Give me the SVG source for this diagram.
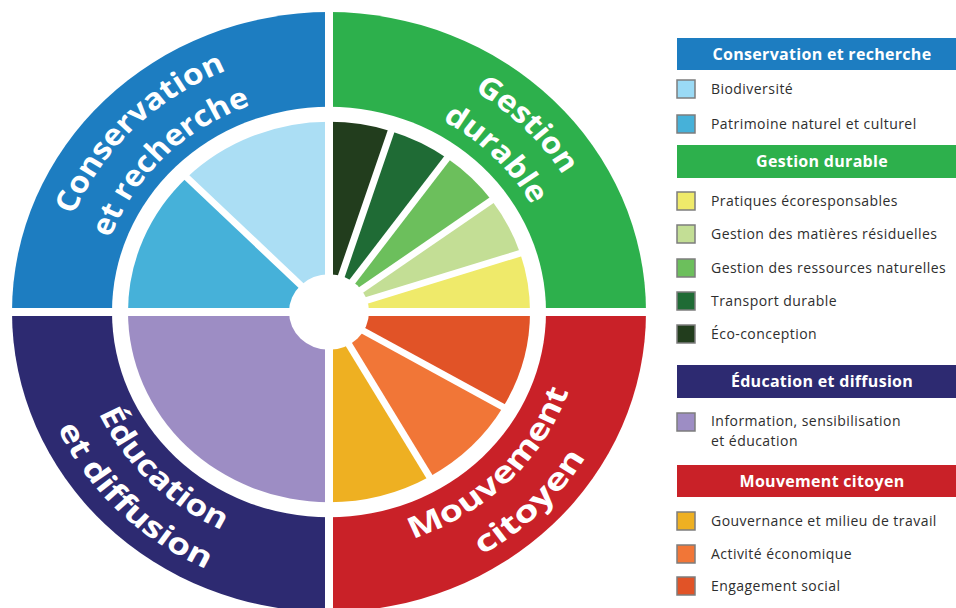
<svg xmlns="http://www.w3.org/2000/svg" width="956" height="608" viewBox="0 0 956 608">
<style>
.ring{font-family:"Open Sans","Noto Sans",sans-serif;font-weight:700;font-size:31px;fill:#fff}
.hdr{font-family:"Open Sans","Noto Sans",sans-serif;font-weight:700;font-size:16px;letter-spacing:0.3px;fill:#fff;text-anchor:middle}
.item{font-family:"Open Sans","Noto Sans",sans-serif;font-size:14px;letter-spacing:0.45px;fill:#2e2e2e}
.sw{stroke:#7d7d7d;stroke-width:1.5}
.sep{stroke:#fff;stroke-width:7;stroke-linecap:butt}
</style>
<defs>
<path id="pTL1" d="M-275,0 A275,275 0 0 1 0,-275"/>
<path id="pTL2" d="M-232,0 A232,232 0 0 1 0,-232"/>
<path id="pTR1" d="M0,-275 A275,275 0 0 1 275,0"/>
<path id="pTR2" d="M0,-232 A232,232 0 0 1 232,0"/>
<path id="pBL1" d="M-254,0 A254,254 0 0 0 0,254"/>
<path id="pBL2" d="M-298,0 A298,298 0 0 0 0,298"/>
<path id="pBR1" d="M0,254 A254,254 0 0 0 254,0"/>
<path id="pBR2" d="M0,299 A299,299 0 0 0 299,0"/>
</defs>
<rect width="956" height="608" fill="#fff"/>
<g transform="translate(329,312) scale(1,0.946)">
  <g id="conservation-ring"><path d="M0,0 L0,-317 A317,317 0 0 0 -317,0 Z" fill="#1D7DC1"/></g>
  <g id="gestion-ring"><path d="M0,0 L317,0 A317,317 0 0 0 0,-317 Z" fill="#2DB04C"/></g>
  <g id="education-ring"><path d="M0,0 L-317,0 A317,317 0 0 0 0,317 Z" fill="#2D2A71"/></g>
  <g id="mouvement-ring"><path d="M0,0 L0,317 A317,317 0 0 0 317,0 Z" fill="#C92128"/></g>
  <circle r="217" fill="#fff"/>
  <g id="biodiversite"><path d="M0,0 L0,-201 A201,201 0 0 0 -142.13,-142.13 Z" fill="#ABDEF4"/></g>
  <g id="patrimoine"><path d="M0,0 L-142.13,-142.13 A201,201 0 0 0 -201,0 Z" fill="#46B1D9"/></g>
  <g id="pratiques"><path d="M0,0 L201,0 A201,201 0 0 0 191.16,-62.11 Z" fill="#EFEA6A"/></g>
  <g id="matieres"><path d="M0,0 L191.16,-62.11 A201,201 0 0 0 162.61,-118.15 Z" fill="#C3DE95"/></g>
  <g id="ressources"><path d="M0,0 L162.61,-118.15 A201,201 0 0 0 118.15,-162.61 Z" fill="#6CBF5C"/></g>
  <g id="transport"><path d="M0,0 L118.15,-162.61 A201,201 0 0 0 62.11,-191.16 Z" fill="#1F6B35"/></g>
  <g id="eco-conception"><path d="M0,0 L62.11,-191.16 A201,201 0 0 0 0,-201 Z" fill="#223D1D"/></g>
  <g id="information"><path d="M0,0 L-201,0 A201,201 0 0 0 0,201 Z" fill="#9D8DC4"/></g>
  <g id="gouvernance"><path d="M0,0 L0,201 A201,201 0 0 0 100.5,174.07 Z" fill="#EEB022"/></g>
  <g id="activite"><path d="M0,0 L100.5,174.07 A201,201 0 0 0 174.07,100.5 Z" fill="#F17637"/></g>
  <g id="engagement"><path d="M0,0 L174.07,100.5 A201,201 0 0 0 201,0 Z" fill="#E15327"/></g>
  <g id="separators">
    <line class="sep" x1="0" y1="0" x2="-148.49" y2="-148.49"/>
    <line class="sep" x1="0" y1="0" x2="199.72" y2="-64.89"/>
    <line class="sep" x1="0" y1="0" x2="169.89" y2="-123.43"/>
    <line class="sep" x1="0" y1="0" x2="123.43" y2="-169.89"/>
    <line class="sep" x1="0" y1="0" x2="64.89" y2="-199.72"/>
    <line class="sep" x1="0" y1="0" x2="105" y2="181.87"/>
    <line class="sep" x1="0" y1="0" x2="181.87" y2="105"/>
    <line x1="0" y1="-340" x2="0" y2="340" stroke="#fff" stroke-width="8"/>
    <line x1="-340" y1="0" x2="340" y2="0" stroke="#fff" stroke-width="8.6"/>
    <circle r="40" fill="#fff"/>
  </g>
  <g id="ring-labels">
    <text class="ring"><textPath href="#pTL1" startOffset="50%" text-anchor="middle" textLength="222" lengthAdjust="spacingAndGlyphs">Conservation</textPath></text>
    <text class="ring"><textPath href="#pTL2" startOffset="50%" text-anchor="middle" textLength="205" lengthAdjust="spacingAndGlyphs">et recherche</textPath></text>
    <text class="ring"><textPath href="#pTR1" startOffset="50%" text-anchor="middle" textLength="127" lengthAdjust="spacingAndGlyphs">Gestion</textPath></text>
    <text class="ring"><textPath href="#pTR2" startOffset="50%" text-anchor="middle" textLength="128" lengthAdjust="spacingAndGlyphs">durable</textPath></text>
    <text class="ring"><textPath href="#pBL1" startOffset="50%" text-anchor="middle" textLength="178" lengthAdjust="spacingAndGlyphs">Éducation</textPath></text>
    <text class="ring"><textPath href="#pBL2" startOffset="50%" text-anchor="middle" textLength="215" lengthAdjust="spacingAndGlyphs">et diffusion</textPath></text>
    <text class="ring"><textPath href="#pBR1" startOffset="50%" text-anchor="middle" textLength="228" lengthAdjust="spacingAndGlyphs">Mouvement</textPath></text>
    <text class="ring"><textPath href="#pBR2" startOffset="50%" text-anchor="middle" textLength="148" lengthAdjust="spacingAndGlyphs">citoyen</textPath></text>
  </g>
</g>
<g id="legend">
  <g id="lg-conservation"><rect x="677" y="38" width="290" height="32" fill="#1D7DC1"/><text class="hdr" x="822" y="60">Conservation et recherche</text></g>
  <g id="lg-biodiversite"><rect class="sw" x="677" y="80" width="18" height="18" fill="#9ADAF5"/><text class="item" x="711" y="94">Biodiversité</text></g>
  <g id="lg-patrimoine"><rect class="sw" x="677" y="115" width="18" height="18" fill="#46B1D9"/><text class="item" x="711" y="129">Patrimoine naturel et culturel</text></g>
  <g id="lg-gestion"><rect x="677" y="145" width="290" height="33" fill="#2DB04C"/><text class="hdr" x="822" y="167">Gestion durable</text></g>
  <g id="lg-pratiques"><rect class="sw" x="677" y="192" width="18" height="18" fill="#EFEA6A"/><text class="item" x="711" y="206">Pratiques écoresponsables</text></g>
  <g id="lg-matieres"><rect class="sw" x="677" y="225" width="18" height="18" fill="#C3DE95"/><text class="item" x="711" y="239">Gestion des matières résiduelles</text></g>
  <g id="lg-ressources"><rect class="sw" x="677" y="259" width="18" height="18" fill="#6CBF5C"/><text class="item" x="711" y="273">Gestion des ressources naturelles</text></g>
  <g id="lg-transport"><rect class="sw" x="677" y="292" width="18" height="18" fill="#1F6B35"/><text class="item" x="711" y="306">Transport durable</text></g>
  <g id="lg-eco"><rect class="sw" x="677" y="325" width="18" height="18" fill="#223D1D"/><text class="item" x="711" y="339">Éco-conception</text></g>
  <g id="lg-education"><rect x="677" y="365" width="290" height="33" fill="#2D2A71"/><text class="hdr" x="822" y="387">Éducation et diffusion</text></g>
  <g id="lg-information"><rect class="sw" x="677" y="413" width="18" height="18" fill="#9D8DC4"/><text class="item" x="711" y="426">Information, sensibilisation</text><text class="item" x="711" y="446">et éducation</text></g>
  <g id="lg-mouvement"><rect x="677" y="465" width="290" height="32" fill="#C92128"/><text class="hdr" x="822" y="487">Mouvement citoyen</text></g>
  <g id="lg-gouvernance"><rect class="sw" x="677" y="512" width="18" height="18" fill="#EEB022"/><text class="item" x="711" y="526">Gouvernance et milieu de travail</text></g>
  <g id="lg-activite"><rect class="sw" x="677" y="545" width="18" height="18" fill="#F17637"/><text class="item" x="711" y="559">Activité économique</text></g>
  <g id="lg-engagement"><rect class="sw" x="677" y="577" width="18" height="18" fill="#E15327"/><text class="item" x="711" y="591">Engagement social</text></g>
</g>
</svg>
